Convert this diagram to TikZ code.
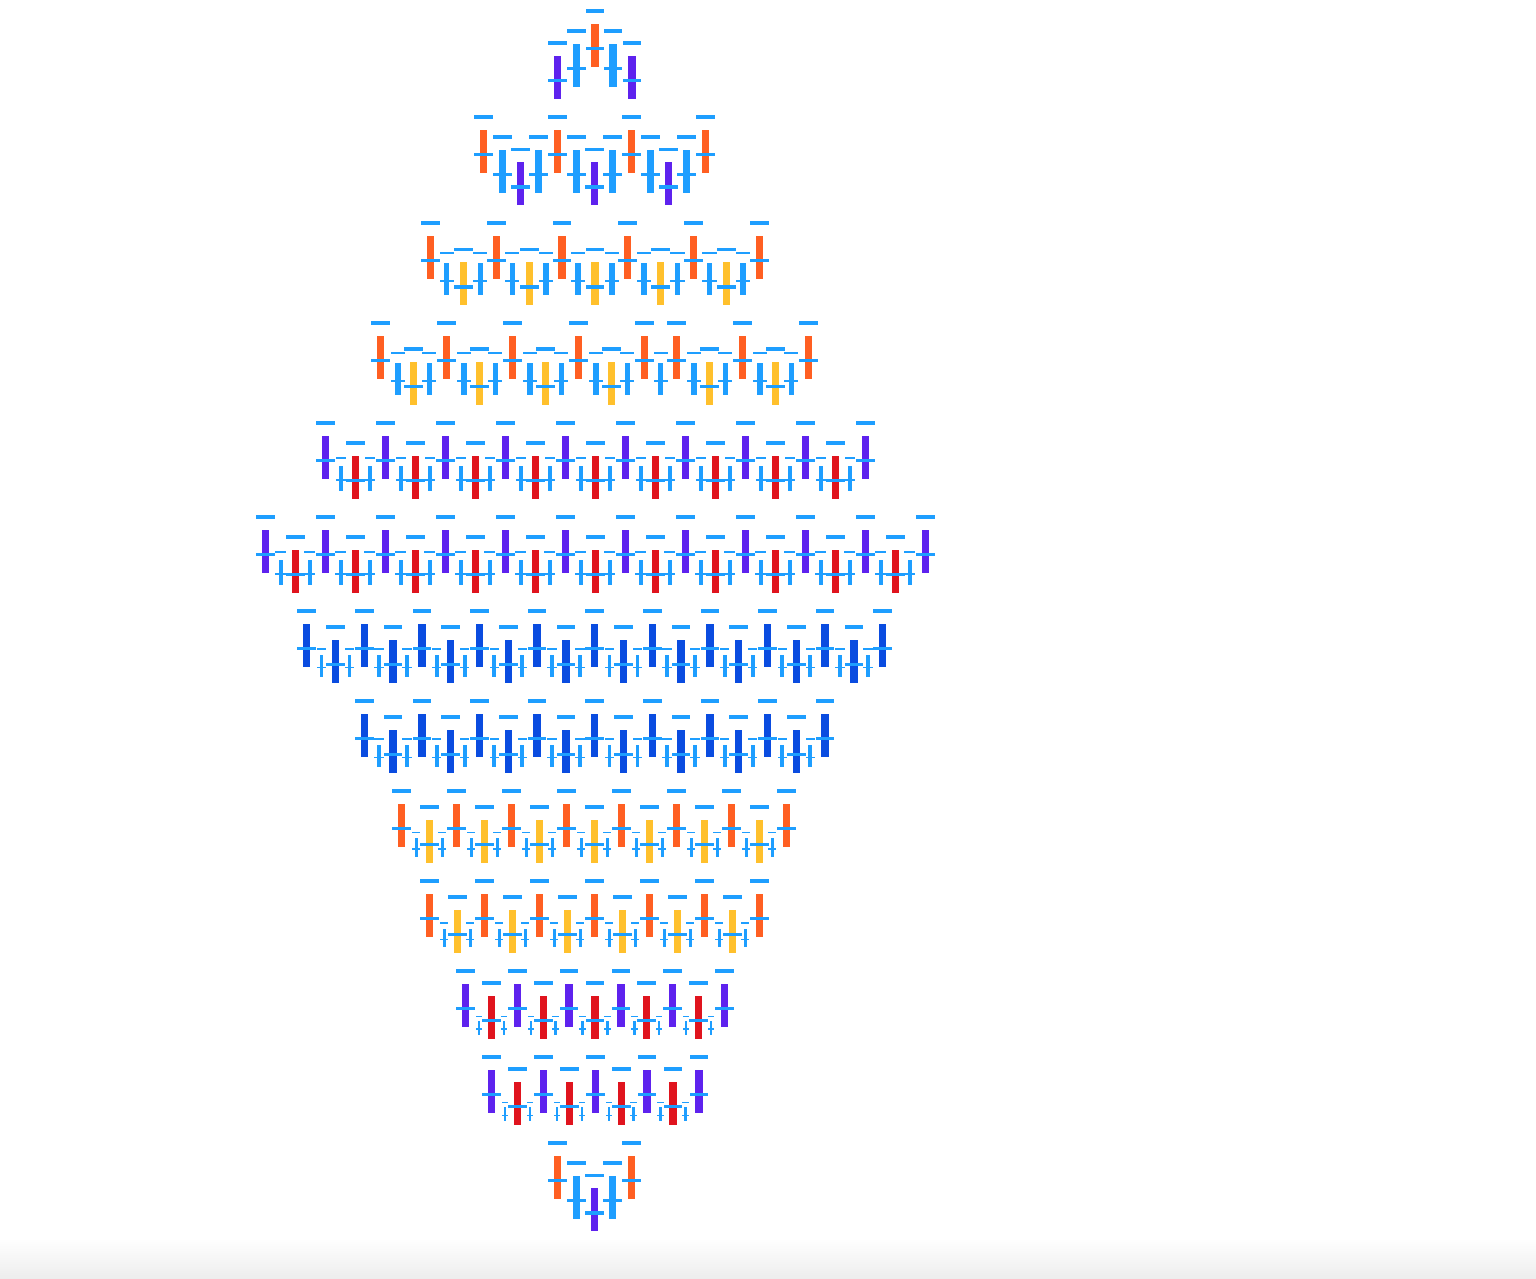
\documentclass[tikz,border=0pt]{standalone}
\usetikzlibrary{calc}
\definecolor{dashc}{RGB}{30,158,255}
\definecolor{orng}{RGB}{255,95,34}
\definecolor{purp}{RGB}{94,34,238}
\definecolor{yelw}{RGB}{255,192,44}
\definecolor{redc}{RGB}{224,20,30}
\definecolor{dblue}{RGB}{10,76,224}
\newcommand\glyphu[4]{% #1 x, #2 bar top, #3 scale, #4 colour
  \fill[color=#4] ({#1-3.65*#3},{#2}) rectangle ({#1+3.65*#3},{#2+42.7*#3});
  \fill[dashc] ({#1-9.35*#3},{#2-14.65*#3}) rectangle ({#1+9.35*#3},{#2-11.35*#3});
  \fill[dashc] ({#1-9.35*#3},{#2+23.05*#3}) rectangle ({#1+9.35*#3},{#2+26.35*#3});
}
\begin{document}
\begin{tikzpicture}[x=1pt,y=-1pt]
\useasboundingbox (0,0) rectangle (1536,1278);
\fill[white] (0,0) rectangle (1536,1278);
\shade[top color=white,bottom color=black!7] (0,1238) rectangle (1536,1278);
% regular rows: x0 / period / groups / outer colour / outer top / centre colour / centre top / B scale / B top / B offset
\foreach \xo/\p/\n/\oc/\ot/\cc/\ct/\bs/\bt/\a in {
  557.7/74.3/1/purp/56/orng/24/1/44/19,
  483.7/74/3/orng/130/purp/162.3/1/150/19,
  430.7/65.7/5/orng/236/yelw/262.3/0.75/262.7/16,
  325.5/60/9/purp/436/redc/456/0.585/466/15.5,
  265.3/60/11/purp/530/redc/550/0.585/560/15.5,
  306.7/57.6/10/dblue/624/dblue/640/0.5/655.3/14.8,
  364.3/57.6/8/dblue/714/dblue/730/0.5/745.3/14.8,
  401.7/55/7/orng/804/yelw/820/0.43/838.3/14.5,
  429.7/55/6/orng/894/yelw/910/0.43/928.7/14.5,
  465.5/51.8/5/purp/984/redc/996/0.335/1020.7/13.5,
  491.7/51.8/4/purp/1070/redc/1082/0.335/1107/13.5,
  557.7/73.6/1/orng/1156/purp/1188.3/1/1176/19}{
  \pgfmathtruncatemacro\nm{\n-1}
  \foreach \k in {0,...,\nm}{
    \pgfmathsetmacro\gx{\xo+\k*\p}
    \pgfmathsetmacro\bxa{\gx+\a}
    \pgfmathsetmacro\cx{\gx+\p/2}
    \pgfmathsetmacro\bxb{\gx+\p-\a}
    \glyphu{\gx}{\ot}{1}{\oc}
    \glyphu{\bxa}{\bt}{\bs}{dashc}
    \glyphu{\cx}{\ct}{1}{\cc}
    \glyphu{\bxb}{\bt}{\bs}{dashc}
  }
  \pgfmathsetmacro\lx{\xo+\n*\p}
  \glyphu{\lx}{\ot}{1}{\oc}
}
% row 4, with one short group
\foreach \gx in {380.7,446.7,512.7,578.7,676.7,742.7}{
  \pgfmathsetmacro\bxa{\gx+17.3}
  \pgfmathsetmacro\cx{\gx+33}
  \pgfmathsetmacro\bxb{\gx+66-17.3}
  \glyphu{\bxa}{362.7}{0.75}{dashc}
  \glyphu{\cx}{362}{1}{yelw}
  \glyphu{\bxb}{362.7}{0.75}{dashc}
}
\glyphu{660.7}{362.7}{0.75}{dashc}
\foreach \gx in {380.7,446.7,512.7,578.7,644.7,676.7,742.7,808.7}{
  \glyphu{\gx}{336}{1}{orng}
}
\end{tikzpicture}
\end{document}
